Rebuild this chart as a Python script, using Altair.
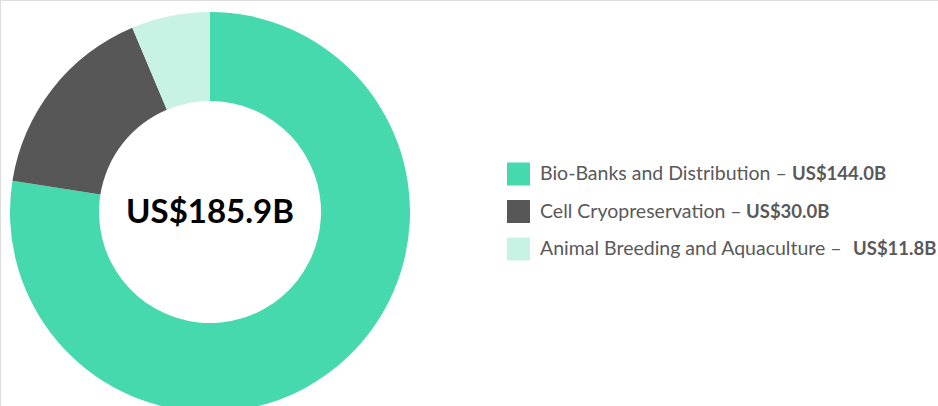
import altair as alt
import pandas as pd

categories = ["Bio-Banks and Distribution", "Cell Cryopreservation", "Animal Breeding and Aquaculture"]
values = [144.0, 30.0, 11.8]
value_labels = ["US$144.0B", "US$30.0B", "US$11.8B"]
total_label = "US$185.9B"
colors = ["#47D9AE", "#575757", "#C8F2E4"]

# layout (pixel positions of the bold value text, measured from reference)
value_x = [792, 746, 853]

df = pd.DataFrame({
    "category": categories,
    "value": values,
    "order": list(range(len(categories))),
    "label": [c + " \u2013" for c in categories],
    "vlabel": value_labels,
    "vx": value_x,
})

W, H = 938, 406
FONT = "Lato"

color_scale = alt.Scale(domain=categories, range=colors)

arc = alt.Chart(df).mark_arc(radius=200, radius2=111, stroke=None).encode(
    theta=alt.Theta("value:Q", stack=True),
    order=alt.Order("order:Q"),
    color=alt.Color("category:N", scale=color_scale, legend=None),
    x=alt.value(210),
    y=alt.value(212),
)

center = alt.Chart(pd.DataFrame({"t": [total_label]})).mark_text(
    font=FONT, fontSize=33, fontWeight="bold", color="#000000",
    align="center", baseline="middle",
).encode(text="t:N", x=alt.value(210), y=alt.value(213))

yscale = alt.Scale(domain=categories, range=[174, 249], type="point", padding=0)

squares = alt.Chart(df).mark_square(size=23 * 23, opacity=1).encode(
    x=alt.value(518.5),
    y=alt.Y("category:N", scale=yscale, axis=None),
    color=alt.Color("category:N", scale=color_scale, legend=None),
)

labels = alt.Chart(df).mark_text(
    font=FONT, fontSize=19.5, color="#595959", align="left", baseline="middle",
).encode(
    x=alt.value(540),
    y=alt.Y("category:N", scale=yscale, axis=None),
    text="label:N",
)

vlabels = alt.Chart(df).mark_text(
    font=FONT, fontSize=18.5, fontWeight="bold", color="#595959", align="left", baseline="middle",
).encode(
    x=alt.X("vx:Q", scale=None, axis=None),
    y=alt.Y("category:N", scale=yscale, axis=None),
    text="vlabel:N",
)

chart = alt.layer(arc, center, squares, labels, vlabels).properties(
    width=W, height=H,
    autosize=alt.AutoSizeParams(type="none"),
    padding=0,
).configure_view(stroke=None).configure(background="#ffffff")

chart.save("out.html", embed_options={"renderer": "svg", "actions": False})
